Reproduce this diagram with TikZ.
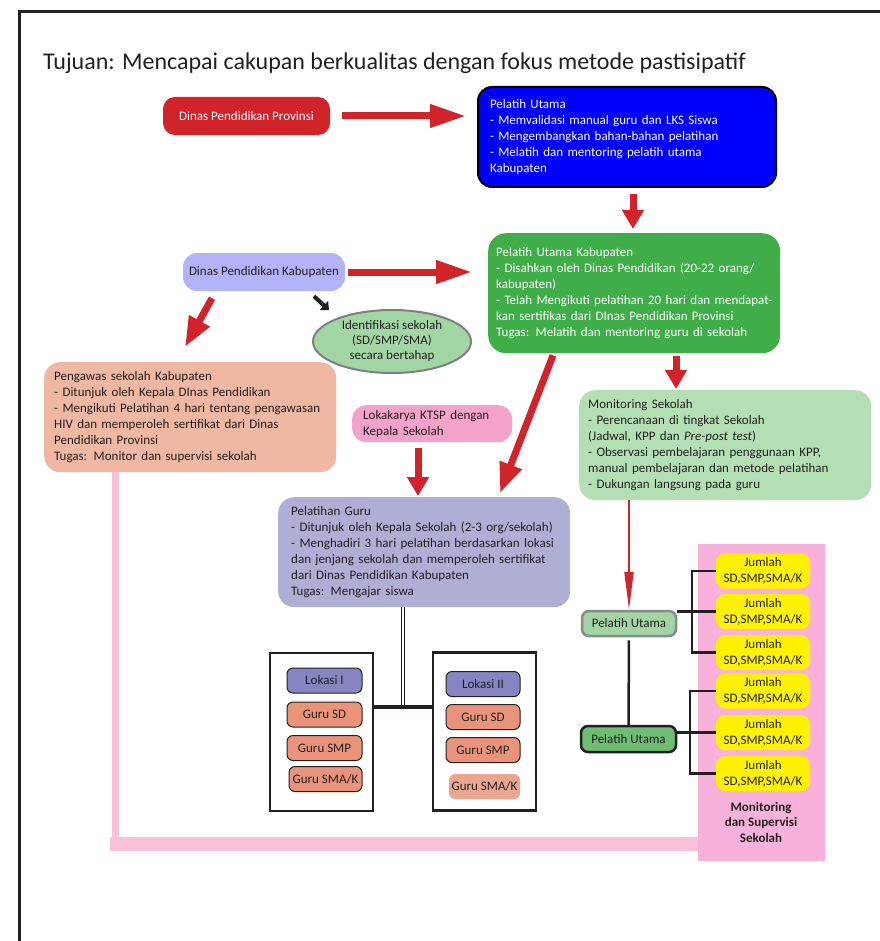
\documentclass[tikz,border=0pt]{standalone}
\usepackage{fontspec}
\setmainfont{Carlito}
\usetikzlibrary{shapes.geometric,arrows.meta,calc}
\definecolor{ink}{HTML}{231F20}
\definecolor{provred}{HTML}{D2232A}
\definecolor{arrred}{HTML}{D2232A}
\definecolor{blueb}{HTML}{0000FF}
\definecolor{greenb}{HTML}{3FAE49}
\definecolor{kabb}{HTML}{B3B3FA}
\definecolor{identb}{HTML}{A3D6A5}
\definecolor{identd}{HTML}{7F7F7F}
\definecolor{pengb}{HTML}{F0B8A3}
\definecolor{monb}{HTML}{B4DFB5}
\definecolor{lokb}{HTML}{F4A2C9}
\definecolor{gurub}{HTML}{AFAED5}
\definecolor{lokasib}{HTML}{8585C2}
\definecolor{gsb}{HTML}{E8937A}
\definecolor{gslight}{HTML}{EBA690}
\definecolor{pu1b}{HTML}{A2D5A3}
\definecolor{pu1d}{HTML}{8A8A8A}
\definecolor{pu2b}{HTML}{6DBE73}
\definecolor{panelpink}{HTML}{F8B1DB}
\definecolor{linepink}{HTML}{F6C1D9}
\definecolor{yel}{HTML}{FFF200}
\definecolor{frame}{HTML}{222222}
\begin{document}
\begin{tikzpicture}[x=1pt,y=-1pt,
  body/.style={font=\fontsize{13pt}{16pt}\selectfont},
  rbox/.style={rounded corners=14pt, anchor=north west, inner xsep=10pt, inner ysep=3pt, align=left, body, text=ink},
  cbox/.style={rounded corners=14pt, inner sep=2pt, align=center, body, text=ink},
  smallbox/.style={rounded corners=6pt, draw=ink, line width=1pt, minimum width=75pt, minimum height=25pt, inner sep=1pt, body, text=ink},
  panel/.style={draw=ink, line width=2.5pt, fill=white, minimum width=103pt, minimum height=158pt, inner sep=0pt},
  ybox/.style={rounded corners=9pt, fill=yel, minimum width=94pt, minimum height=35pt, inner sep=1pt, align=center, font=\fontsize{13pt}{16pt}\selectfont, text=ink},
  bigarrow/.style={draw=arrred, line width=7pt, -{Triangle[length=36pt,width=22pt]}},
  diagarrow/.style={draw=arrred, line width=7pt, -{Triangle[length=30pt,width=22pt]}},
  downarrow/.style={draw=arrred, line width=7pt, -{Triangle[length=19pt,width=21pt]}},
  thinarrow/.style={draw=arrred, line width=2pt, -{Triangle[length=38pt,width=9pt]}},
  blackline/.style={draw=ink, line width=2.5pt}
]
\useasboundingbox (0,0) rectangle (879,941);
% frame
\draw[frame, line width=3pt] (19,945) -- (19,12) -- (882,12);
% title
\node[anchor=base west, inner sep=0pt, text=ink, font=\fontsize{24pt}{28pt}\selectfont] (title) at (43,70) {Tujuan: Mencapai cakupan berkualitas dengan fokus metode pastisipatif};

% top row
\node[cbox, fill=provred, text=white, minimum width=167pt, minimum height=38pt, rounded corners=12pt] (prov) at (246.5,116) {Dinas Pendidikan Provinsi};
\node[rbox, fill=blueb, draw=black, line width=2pt, text=white, minimum width=298pt, minimum height=100pt, text width=274pt, inner xsep=12pt] (pu) at (477,86) {Pelatih Utama\\- Memvalidasi manual guru dan LKS Siswa\\- Mengembangkan bahan-bahan pelatihan\\- Melatih dan mentoring pelatih utama\\Kabupaten};

% second row
\node[rbox, fill=greenb, text=white, minimum width=292pt, minimum height=120pt, text width=276pt, inner xsep=8pt, rounded corners=18pt] (puk) at (488,233) {Pelatih Utama Kabupaten\\- Disahkan oleh Dinas Pendidikan (20-22 orang/\\kabupaten)\\\mbox{- Telah Mengikuti pelatihan 20 hari dan mendapat-}\\kan sertifikas dari DInas Pendidikan Provinsi\\Tugas: Melatih dan mentoring guru di sekolah};
\node[cbox, fill=kabb, minimum width=162pt, minimum height=38pt] (kab) at (264,272) {Dinas Pendidikan Kabupaten};
\node[ellipse, draw=identd, line width=2pt, fill=identb, minimum width=158pt, minimum height=63pt, inner sep=0pt, align=center, text=ink, font=\fontsize{13pt}{15pt}\selectfont] (ident) at (392,341.5) {Identifikasi sekolah\\(SD/SMP/SMA)\\secara bertahap};

% third row
\node[rbox, fill=pengb, minimum width=292pt, minimum height=110pt, text width=272pt, rounded corners=16pt] (peng) at (44,362) {Pengawas sekolah Kabupaten\\- Ditunjuk oleh Kepala DInas Pendidikan\\- Mengikuti Pelatihan 4 hari tentang pengawasan\\HIV dan memperoleh sertifikat dari Dinas\\Pendidikan Provinsi\\Tugas: Monitor dan supervisi sekolah};
\node[rbox, fill=monb, minimum width=292pt, minimum height=110pt, text width=274pt, inner xsep=9pt, rounded corners=16pt] (mon) at (579,390) {Monitoring Sekolah\\- Perencanaan di tingkat Sekolah\\(Jadwal, KPP dan \textit{Pre-post test})\\- Observasi pembelajaran penggunaan KPP,\\manual pembelajaran dan metode pelatihan\\- Dukungan langsung pada guru};
\node[rbox, fill=lokb, minimum width=160pt, minimum height=37pt, text width=138pt, inner xsep=11pt] (lok) at (352,405) {Lokakarya KTSP dengan\\Kepala Sekolah};
\node[rbox, fill=gurub, minimum width=292pt, minimum height=110pt, text width=266pt, inner xsep=13pt, rounded corners=16pt] (guru) at (278,497) {Pelatihan Guru\\- Ditunjuk oleh Kepala Sekolah (2-3 org/sekolah)\\- Menghadiri 3 hari pelatihan berdasarkan lokasi\\dan jenjang sekolah dan memperoleh sertifikat\\dari Dinas Pendidikan Kabupaten\\Tugas: Mengajar siswa};

% location panels
\node[panel] (lp) at (321.5,732) {};
\node[panel] (rp) at (484.5,731.5) {};
\node[smallbox, fill=lokasib] (l1) at (324.5,680.5) {Lokasi I};
\node[smallbox, fill=gsb] (l1sd) at (324.5,714.5) {Guru SD};
\node[smallbox, fill=gsb] (l1smp) at (324.5,748) {Guru SMP};
\node[smallbox, fill=gsb, minimum width=73pt] (l1sma) at (325.5,779) {Guru SMA/K};
\node[smallbox, fill=lokasib, minimum width=74pt] (l2) at (483,684) {Lokasi II};
\node[smallbox, fill=gsb, minimum width=74pt] (l2sd) at (483,717) {Guru SD};
\node[smallbox, fill=gsb, minimum width=74pt] (l2smp) at (483,750) {Guru SMP};
\node[smallbox, fill=gslight, draw=none, minimum width=71pt] (l2sma) at (484.5,786.5) {Guru SMA/K};

% pink panel and yellow boxes
\node[fill=panelpink, minimum width=127pt, minimum height=317pt, inner sep=0pt] (pink) at (761.5,702.5) {};
\node[ybox] (y1) at (763,571) {Jumlah\\SD,SMP,SMA/K};
\node[ybox] (y2) at (763,611.5) {Jumlah\\SD,SMP,SMA/K};
\node[ybox] (y3) at (763,652.5) {Jumlah\\SD,SMP,SMA/K};
\node[ybox] (y4) at (763,691) {Jumlah\\SD,SMP,SMA/K};
\node[ybox] (y5) at (763,732.5) {Jumlah\\SD,SMP,SMA/K};
\node[ybox] (y6) at (763,773.5) {Jumlah\\SD,SMP,SMA/K};
\node[align=center, inner sep=0pt, text=ink, font=\bfseries\fontsize{13pt}{15.5pt}\selectfont] (mds) at (761,822) {Monitoring\\dan Supervisi\\Sekolah};

% pelatih utama small boxes
\node[rounded corners=7pt, fill=pu1b, draw=pu1d, line width=2.5pt, minimum width=94pt, minimum height=25pt, inner sep=1pt, body, text=ink] (pu1) at (629,623.5) {Pelatih Utama};
\node[rounded corners=7pt, fill=pu2b, draw=ink, line width=2.5pt, minimum width=95pt, minimum height=26pt, inner sep=1pt, body, text=ink] (pu2) at (628.5,739) {Pelatih Utama};

% connectors: block arrows
\draw[bigarrow, shorten <=12pt] (prov.east) -- ($(prov.east -| pu.west)+(-11,0)$);
\draw[downarrow, shorten <=6pt, shorten >=4pt] ([xshift=6pt]pu.south) -- ([xshift=6pt]pu.south |- puk.north);
\draw[bigarrow, shorten <=3pt] (kab.east) -- ($(kab.east -| puk.west)+(-16,0)$);
\draw[diagarrow] ([xshift=-52pt,yshift=-7pt]kab.south) -- ([xshift=141pt,yshift=15pt]peng.north west);
\draw[draw=ink, line width=4pt, -{Triangle[length=7pt,width=12pt]}] ([xshift=50pt,yshift=-5pt]kab.south) -- ([xshift=65pt,yshift=-19pt]kab.south);
\draw[diagarrow] ([xshift=65pt,yshift=-2pt]puk.south west) -- ([xshift=222pt,yshift=4pt]guru.north west);
\draw[downarrow, shorten <=3pt, shorten >=1pt] ([xshift=188pt]puk.south west) -- ([xshift=188pt]puk.south west |- mon.north);
\draw[downarrow, shorten <=6pt, shorten >=1pt] ([xshift=66pt]lok.south west) -- ([xshift=66pt]lok.south west |- guru.north);
\draw[thinarrow] (pu1.north |- mon.south) -- (pu1.north);

% teacher training tree
\coordinate (jn) at (403,707);
\draw[draw=ink, line width=1.4pt, double=white, double distance=1.4pt] (guru.south -| jn) -- (jn);
\draw[draw=ink, line width=4.5pt] (lp.east |- jn) -- (rp.west |- jn);

% pelatih utama links
\draw[blackline, shorten <=3pt] (pu1.south) -- (pu2.north);
\draw[blackline] (y1.west) -- ++(-24,0) |- (y3.west);
\draw[blackline] (pu1.east |- y2.west) -- (y2.west);
\draw[blackline] (y4.west) -- ++(-26,0) |- (y6.west);
\draw[blackline] (pu2.east |- y5.west) -- (y5.west);

% pink supervision line
\coordinate (pc) at (115.5,844);
\draw[linepink, line width=7pt] (peng.south -| pc) -- (pc);
\draw[linepink, line width=14pt] ([xshift=-5.5pt]pc) -- (pink.west |- pc);
\end{tikzpicture}
\end{document}
